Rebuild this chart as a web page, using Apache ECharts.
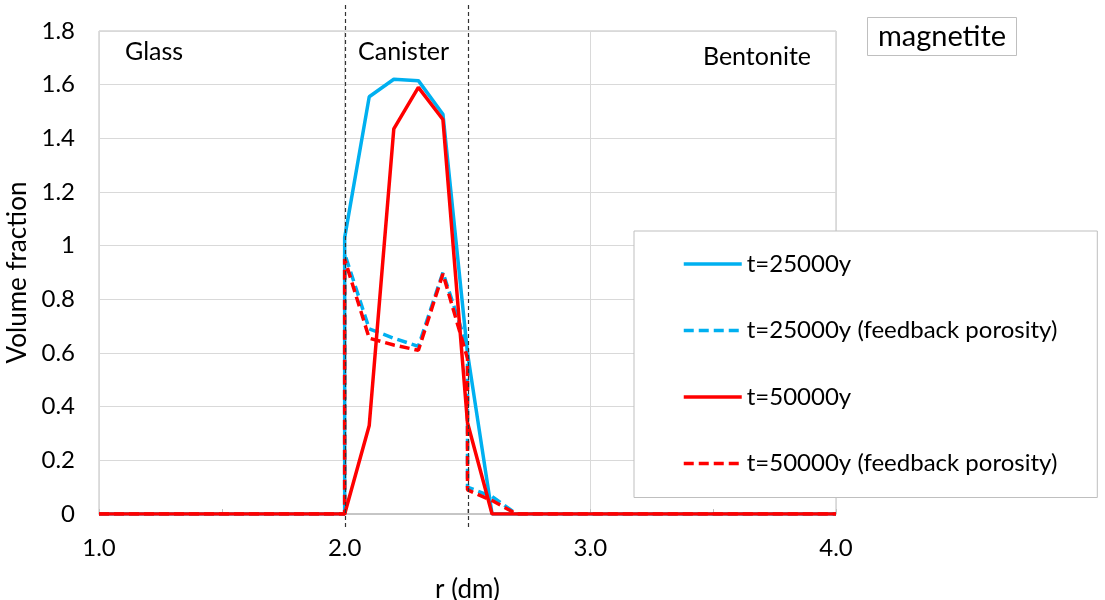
<!DOCTYPE html>
<html>
<head>
<meta charset="utf-8">
<script src="https://cdn.jsdelivr.net/npm/echarts@6/dist/echarts.min.js"></script>
<style>html,body{margin:0;padding:0;background:#fff;}#c{width:1105px;height:600px;}</style>
</head>
<body>
<div id="c"></div>
<script>
// ---- data ----
const r25 = [1.0, 2.0, 2.0, 2.1, 2.2, 2.3, 2.4, 2.5, 2.6, 4.0];
const v25 = [0, 0, 1.03, 1.555, 1.62, 1.615, 1.49, 0.6, 0, 0];
const r25f = [1.0, 2.0, 2.0, 2.1, 2.2, 2.3, 2.4, 2.5, 2.5, 2.6, 2.7, 4.0];
const v25f = [0, 0, 0.97, 0.69, 0.655, 0.625, 0.90, 0.62, 0.1, 0.065, 0, 0];
const r50 = [1.0, 2.0, 2.1, 2.2, 2.3, 2.4, 2.5, 2.6, 4.0];
const v50 = [0, 0, 0.33, 1.435, 1.59, 1.47, 0.34, 0, 0];
const r50f = [1.0, 2.0, 2.0, 2.1, 2.2, 2.3, 2.4, 2.5, 2.5, 2.6, 2.7, 4.0];
const v50f = [0, 0, 0.95, 0.655, 0.63, 0.61, 0.895, 0.58, 0.09, 0.05, 0, 0];
const seriesNames = ['t=25000y', 't=25000y (feedback porosity)', 't=50000y', 't=50000y (feedback porosity)'];
const zoneLabels = ['Glass', 'Canister', 'Bentonite'];
const interfaces = [2.0, 2.5];
const titleText = 'magnetite';

const FONT = 'Lato';
const BLUE = '#00B0F0', RED = '#FF0000';
const zip = (a, b) => a.map((x, i) => [x, b[i]]);

const chart = echarts.init(document.getElementById('c'));
function mk(name, r, v, color, dashed) {
  return {
    name, type: 'line', data: zip(r, v), symbol: 'none', smooth: false,
    lineStyle: { color, width: 3.5, type: dashed ? [10, 5] : 'solid' },
    itemStyle: { color }, animation: false
  };
}
chart.setOption({
  animation: false,
  grid: { left: 99, right: 269, top: 31, bottom: 86, show: true, borderColor: '#bfbfbf', borderWidth: 1,
          containLabel: false, outerBoundsMode: 'none' },
  xAxis: {
    type: 'value', min: 1, max: 4, interval: 1,
    name: 'r (dm)', nameLocation: 'middle', nameGap: 63,
    nameTextStyle: { fontFamily: FONT, fontSize: 26, color: '#000' },
    axisLine: { show: true, lineStyle: { color: '#bfbfbf', width: 1.5 } },
    axisTick: { show: true, inside: true, length: 5, lineStyle: { color: '#bfbfbf' } },
    minorTick: { show: true, splitNumber: 2, length: 5, lineStyle: { color: '#bfbfbf' } },
    axisLabel: { fontFamily: FONT, fontSize: 24, color: '#000', margin: 22, formatter: v => v.toFixed(1) },
    splitLine: { show: true, lineStyle: { color: '#d9d9d9', width: 1 } }
  },
  yAxis: {
    type: 'value', min: 0, max: 1.8, interval: 0.2,
    name: 'Volume fraction', nameLocation: 'middle', nameGap: 67, nameRotate: 90,
    nameTextStyle: { fontFamily: FONT, fontSize: 26, color: '#000' },
    axisLine: { show: false }, axisTick: { show: false },
    axisLabel: { fontFamily: FONT, fontSize: 24, color: '#000', margin: 24, formatter: v => String(+v.toFixed(1)) },
    splitLine: { show: true, lineStyle: { color: '#d9d9d9', width: 1 } }
  },
  legend: {
    data: seriesNames, orient: 'vertical', left: 634, top: 231,
    padding: [19, 40, 20, 48], itemGap: 38.5, itemWidth: 58, itemHeight: 14,
    backgroundColor: '#fff', borderColor: '#bfbfbf', borderWidth: 1,
    itemStyle: { opacity: 0 },
    lineStyle: { width: 3.5 },
    textStyle: { fontFamily: FONT, fontSize: 24, color: '#000', lineHeight: 28 }
  },
  series: [
    mk(seriesNames[0], r25, v25, BLUE, false),
    mk(seriesNames[1], r25f, v25f, BLUE, true),
    mk(seriesNames[2], r50, v50, RED, false),
    mk(seriesNames[3], r50f, v50f, RED, true)
  ]
});

const yTopPx = chart.convertToPixel({ yAxisIndex: 0 }, 1.8);
const yBotPx = chart.convertToPixel({ yAxisIndex: 0 }, 0);
const g = interfaces.map(x => {
  const px = Math.round(chart.convertToPixel({ xAxisIndex: 0 }, x)) + 0.5;
  return { type: 'line', z: 10, shape: { x1: px, y1: yTopPx - 26, x2: px, y2: yBotPx + 16 },
           style: { stroke: '#333', lineWidth: 1.2, lineDash: [4, 3] } };
});
const tpos = [[125, 52, 'left'], [358, 52, 'left'], [811, 57, 'right']];
zoneLabels.forEach((t, i) => {
  g.push({ type: 'text', z: 10, x: tpos[i][0], y: tpos[i][1],
    style: { text: t, font: '25px ' + FONT, fill: '#000', align: tpos[i][2], verticalAlign: 'middle' } });
});
g.push({ type: 'rect', z: 10, shape: { x: 867.5, y: 17.5, width: 149, height: 38 },
  style: { fill: '#fff', stroke: '#bfbfbf', lineWidth: 1 } });
g.push({ type: 'text', z: 11, x: 942, y: 36.5,
  style: { text: titleText, font: '29px ' + FONT, fill: '#000', align: 'center', verticalAlign: 'middle' } });
chart.setOption({ graphic: g });
</script>
</body>
</html>
